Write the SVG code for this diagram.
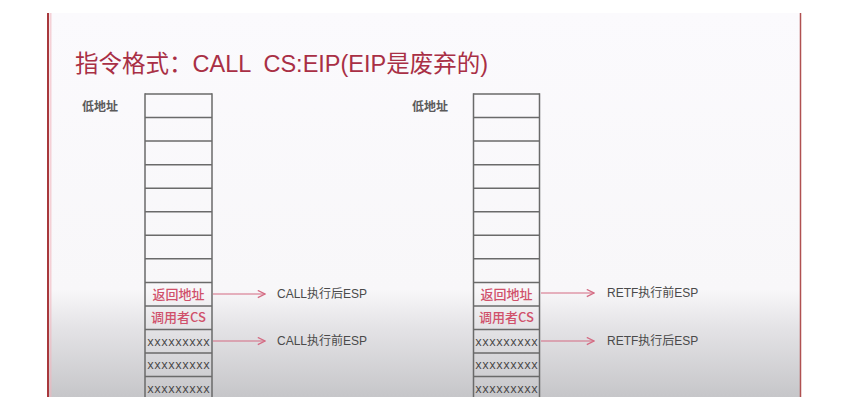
<svg xmlns="http://www.w3.org/2000/svg" width="849" height="403" viewBox="0 0 849 403">
  <defs>
    <linearGradient id="pageShade" x1="0" y1="13" x2="0" y2="397" gradientUnits="userSpaceOnUse">
      <stop offset="0" stop-color="#fbfafd"/>
      <stop offset="0.72" stop-color="#f8f7f9"/>
      <stop offset="0.82" stop-color="#e4e3e6"/>
      <stop offset="1" stop-color="#c6c6c9"/>
    </linearGradient>
    <marker id="chevron" viewBox="0 0 10 10" refX="9" refY="5" markerWidth="9" markerHeight="9" markerUnits="userSpaceOnUse" orient="auto">
      <path d="M1,1 L9,5 L1,9" fill="none" stroke="#d46a82" stroke-width="1.4"/>
    </marker>
  </defs>
  <style>
    .title { font-family: "Liberation Sans", "Noto Sans CJK SC", sans-serif; font-size: 23.5px; fill: #a92f45; white-space: pre; }
    .addr { font-family: "Noto Sans CJK SC", sans-serif; font-size: 12px; font-weight: bold; fill: #5a5a5a; }
    .edge { stroke: #6a6a6a; stroke-width: 1.5; }
    .red { font-family: "Noto Sans CJK SC", sans-serif; font-size: 13px; font-weight: 500; fill: #d0506a; text-anchor: middle; }
    .junk { font-family: "Liberation Mono", monospace; font-size: 13px; fill: #444; }
    .lbl { font-family: "Liberation Sans", "Noto Sans CJK SC", sans-serif; font-size: 12px; fill: #4a4a4a; }
    .arrow { stroke: #d46a82; stroke-width: 1.2; fill: none; marker-end: url(#chevron); }
  </style>

  <!-- page -->
  <rect x="0" y="0" width="849" height="403" fill="#ffffff"/>
  <rect x="47" y="13" width="754" height="384" fill="url(#pageShade)"/>
  <line x1="48" y1="13" x2="48" y2="397" stroke="#a8383c" stroke-width="2"/>
  <line x1="50.5" y1="13" x2="50.5" y2="397" stroke="#f2b6be" stroke-width="2" opacity="0.6"/>
  <line x1="800.5" y1="13" x2="800.5" y2="397" stroke="#b05050" stroke-width="1.5"/>

  <g id="title">
    <text class="title" x="75" y="72" xml:space="preserve">指令格式：CALL  CS:EIP(EIP是废弃的)</text>
  </g>

  <!-- left stack: state around CALL -->
  <g id="stack-call">
    <text class="addr" x="82" y="111">低地址</text>
    <g class="edge">
      <line x1="145" y1="94" x2="212" y2="94"/>
      <line x1="145" y1="93.25" x2="145" y2="397"/>
      <line x1="212" y1="93.25" x2="212" y2="397"/>
      <line x1="145" y1="117.55" x2="212" y2="117.55"/>
      <line x1="145" y1="141.1" x2="212" y2="141.1"/>
      <line x1="145" y1="164.65" x2="212" y2="164.65"/>
      <line x1="145" y1="188.2" x2="212" y2="188.2"/>
      <line x1="145" y1="211.75" x2="212" y2="211.75"/>
      <line x1="145" y1="235.3" x2="212" y2="235.3"/>
      <line x1="145" y1="258.85" x2="212" y2="258.85"/>
      <line x1="145" y1="282.4" x2="212" y2="282.4"/>
      <line x1="145" y1="305.95" x2="212" y2="305.95"/>
      <line x1="145" y1="329.5" x2="212" y2="329.5"/>
      <line x1="145" y1="353.05" x2="212" y2="353.05"/>
      <line x1="145" y1="376.6" x2="212" y2="376.6"/>
    </g>
    <text class="red" x="178.5" y="298.5">返回地址</text>
    <text class="red" x="178.5" y="322">调用者CS</text>
    <text class="junk" x="147" y="345.5" textLength="63" lengthAdjust="spacingAndGlyphs">xxxxxxxxx</text>
    <text class="junk" x="147" y="369" textLength="63" lengthAdjust="spacingAndGlyphs">xxxxxxxxx</text>
    <text class="junk" x="147" y="392.5" textLength="63" lengthAdjust="spacingAndGlyphs">xxxxxxxxx</text>
  </g>

  <!-- right stack: state around RETF -->
  <g id="stack-retf">
    <text class="addr" x="412" y="111">低地址</text>
    <g class="edge">
      <line x1="473.5" y1="94" x2="539.5" y2="94"/>
      <line x1="473.5" y1="93.25" x2="473.5" y2="397"/>
      <line x1="539.5" y1="93.25" x2="539.5" y2="397"/>
      <line x1="473.5" y1="117.55" x2="539.5" y2="117.55"/>
      <line x1="473.5" y1="141.1" x2="539.5" y2="141.1"/>
      <line x1="473.5" y1="164.65" x2="539.5" y2="164.65"/>
      <line x1="473.5" y1="188.2" x2="539.5" y2="188.2"/>
      <line x1="473.5" y1="211.75" x2="539.5" y2="211.75"/>
      <line x1="473.5" y1="235.3" x2="539.5" y2="235.3"/>
      <line x1="473.5" y1="258.85" x2="539.5" y2="258.85"/>
      <line x1="473.5" y1="282.4" x2="539.5" y2="282.4"/>
      <line x1="473.5" y1="305.95" x2="539.5" y2="305.95"/>
      <line x1="473.5" y1="329.5" x2="539.5" y2="329.5"/>
      <line x1="473.5" y1="353.05" x2="539.5" y2="353.05"/>
      <line x1="473.5" y1="376.6" x2="539.5" y2="376.6"/>
    </g>
    <text class="red" x="506.5" y="298.5">返回地址</text>
    <text class="red" x="506.5" y="322">调用者CS</text>
    <text class="junk" x="475" y="345.5" textLength="63" lengthAdjust="spacingAndGlyphs">xxxxxxxxx</text>
    <text class="junk" x="475" y="369" textLength="63" lengthAdjust="spacingAndGlyphs">xxxxxxxxx</text>
    <text class="junk" x="475" y="392.5" textLength="63" lengthAdjust="spacingAndGlyphs">xxxxxxxxx</text>
  </g>

  <!-- ESP pointers -->
  <g id="connectors">
    <line class="arrow" x1="213" y1="294" x2="265" y2="294"/>
    <line class="arrow" x1="213" y1="341" x2="265" y2="341"/>
    <line class="arrow" x1="541" y1="293" x2="594" y2="293"/>
    <line class="arrow" x1="541" y1="341" x2="594" y2="341"/>
  </g>

  <g id="label-call-after">
    <text class="lbl" x="277" y="298">CALL执行后ESP</text>
  </g>
  <g id="label-call-before">
    <text class="lbl" x="277" y="345">CALL执行前ESP</text>
  </g>
  <g id="label-retf-before">
    <text class="lbl" x="607" y="297">RETF执行前ESP</text>
  </g>
  <g id="label-retf-after">
    <text class="lbl" x="607" y="345">RETF执行后ESP</text>
  </g>
</svg>
